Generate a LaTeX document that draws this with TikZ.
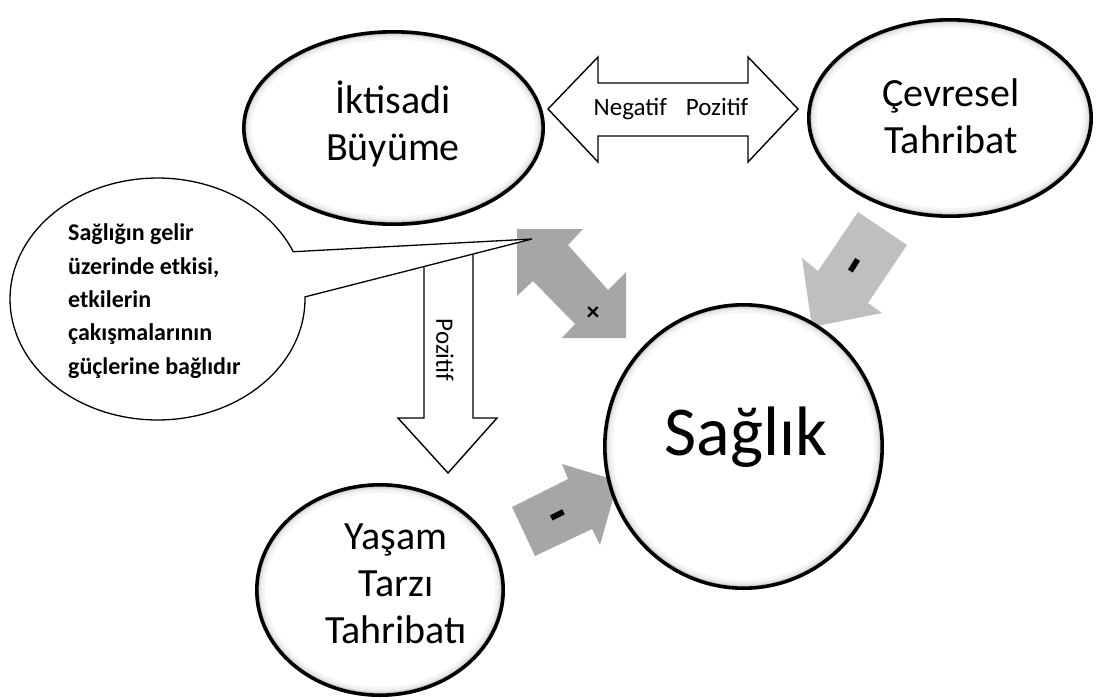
\documentclass[tikz,border=0pt]{standalone}
\usepackage{fontspec}
\setmainfont{Carlito}
\usetikzlibrary{shapes.geometric}
\definecolor{arrowdark}{HTML}{A6A6A6}
\definecolor{arrowlight}{HTML}{BFBFBF}
\tikzset{
  lbl/.style={font=\fontsize{40}{47}\selectfont, align=center, inner sep=0pt, anchor=base},
  biglbl/.style={font=\fontsize{70}{80}\selectfont, inner sep=0pt, anchor=base},
  smalllbl/.style={font=\fontsize{25}{30}\selectfont, inner sep=0pt},
  notelbl/.style={font=\bfseries\fontsize{24}{33.3}\selectfont, align=left, inner sep=0pt, anchor=base west},
  blockdark/.style={fill=arrowdark, draw=none},
  blocklight/.style={fill=arrowlight, draw=none},
  blockwhite/.style={fill=white, draw=black, line width=1.4pt, line join=miter},
  signlbl/.style={font=\bfseries\fontsize{56}{56}\selectfont, inner sep=0pt},
  crosslbl/.style={font=\bfseries\fontsize{26}{26}\selectfont, inner sep=0pt},
  rim/.style={draw=black, line width=3.6pt},
  hole/.style={ellipse, inner sep=0pt, draw=none, fill=white},
}
\newcommand\ovalbubble[5]{%
  \node[hole, minimum width=2*#4, minimum height=2*#5] (#1) at (#2,#3) {};
  \begin{scope}
    \clip (#2,#3) ellipse [x radius=#4, y radius=#5];
    \draw[line width=16pt, black!4] (#2,#3) ellipse [x radius=#4, y radius=#5];
    \draw[line width=11pt, black!7] (#2,#3) ellipse [x radius=#4, y radius=#5];
    \draw[line width=7.5pt, black!12] (#2,#3) ellipse [x radius=#4, y radius=#5];
    \draw[line width=5pt, black!22] (#2,#3) ellipse [x radius=#4, y radius=#5];
  \end{scope}
  \draw[rim] (#2,#3) ellipse [x radius=#4, y radius=#5];
}
\begin{document}
\begin{tikzpicture}[x=1pt,y=-1pt]
\useasboundingbox (0,0) rectangle (1098,699);

% gray block arrows
\path[blocklight] (858,212) -- (907,245) -- (868,303) -- (882,313) -- (812,327) -- (802,258) -- (818,271) -- cycle;
\path[blockdark] (512,507) -- (535,556) -- (592,529) -- (600,545) -- (618,481) -- (562,464) -- (568,479) -- cycle;
\path[blockdark] (517,229) -- (583,229) -- (568,245) -- (608,290) -- (626,272) -- (626,338) -- (562,338) -- (575,324) -- (533,281) -- (517,296) -- cycle;

% ellipses
\ovalbubble{growth}{393.5}{128}{149.7}{96.2}
\ovalbubble{env}{950}{118}{141.2}{98.2}
\ovalbubble{health}{743.5}{446.5}{138.7}{141.7}
\ovalbubble{life}{380}{590}{123.2}{105.2}

% white double arrow
\draw[blockwhite] (548,109) -- (598,57) -- (598,83) -- (748,83) -- (748,57) -- (798,109) -- (748,162) -- (748,136) -- (598,136) -- (598,162) -- cycle;
\node[smalllbl, anchor=base] (negpos) at (671,115) {Negatif\hspace{19pt}Pozitif};

% white down arrow
\draw[blockwhite] (424,250) -- (424,418) -- (398,418) -- (448,473) -- (497,418) -- (473,418) -- (473,250) -- cycle;
\node[smalllbl, rotate=-90] (pos) at (445,350) {Pozitif};

% callout
\draw[fill=white, draw=black, line width=1.3pt, line join=miter]
  plot[domain=-1:337, samples=140] ({157.5+147.5*cos(\x)},{299+121*sin(\x)}) -- (532,239) -- cycle;
\begin{scope}
  \clip (20,200) rectangle (300,377.5);
  \node[notelbl] (note) at (68,374) {Sağlığın gelir\\üzerinde etkisi,\\etkilerin\\çakışmalarının\\güçlerine bağlıdır};
\end{scope}

% labels
\node[lbl] (growthtxt) at (393,160) {İktisadi\\Büyüme};
\node[lbl] (envtxt) at (951,153) {Çevresel\\Tahribat};
\node[lbl] (lifetxt) at (396,643) {Yaşam\\Tarzı\\Tahribatı};
\node[biglbl] (healthtxt) at (746,455) {Sağlık};

% signs on gray arrows
\node[signlbl, rotate=58] (envsign) at (860,269) {-};
\node[signlbl, rotate=27] (lifesign) at (561,521) {-};
\node[crosslbl] (crosssign) at (593,314) {×};
\end{tikzpicture}
\end{document}
